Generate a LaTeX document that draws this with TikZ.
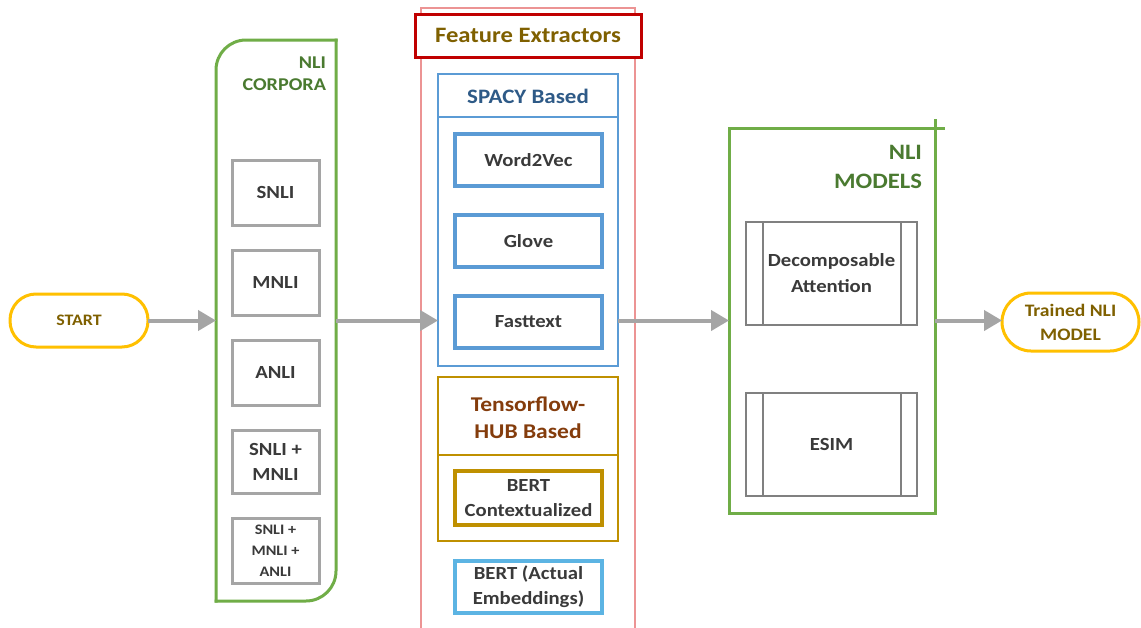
\documentclass[tikz,border=0pt]{standalone}
\usepackage{fontspec}
\setmainfont{Carlito}[FakeStretch=1.12]
\usetikzlibrary{arrows.meta}
\definecolor{cgray}{HTML}{A5A5A5}
\definecolor{carrow}{HTML}{A5A5A5}
\definecolor{cgreen}{HTML}{70AD47}
\definecolor{cdgreen}{HTML}{4A7A30}
\definecolor{cgold}{HTML}{FFC000}
\definecolor{colive}{HTML}{7F6000}
\definecolor{ctext}{HTML}{3A3A3A}
\definecolor{cblue}{HTML}{5B9BD5}
\definecolor{cdblue}{HTML}{2E5A87}
\definecolor{cbrown}{HTML}{843C0C}
\definecolor{cdgold}{HTML}{BF9000}
\definecolor{clblue}{HTML}{5CB4E3}
\definecolor{cred}{HTML}{C00000}
\definecolor{cpink}{HTML}{EC9494}
\definecolor{cmgray}{HTML}{808080}
\begin{document}
\begin{tikzpicture}[x=1pt,y=-1pt,
  every node/.style={inner sep=0pt, outer sep=0pt, align=center},
  pill/.style={draw=cgold, line width=3pt, text=colive},
  boxfont/.style={font=\bfseries\fontsize{18.5}{25}\selectfont},
  corpbox/.style={boxfont, draw=cgray, line width=3pt, minimum width=87pt, minimum height=65pt, text=ctext},
  spbox/.style={boxfont, draw=cblue, line width=3.5pt, minimum width=147pt, minimum height=52pt, text=ctext},
  modbox/.style={font=\bfseries\fontsize{18.5}{26}\selectfont, draw=cmgray, line width=1.5pt, minimum width=171pt, minimum height=103pt, text=ctext},
  grn/.style={draw=cgreen, line width=3pt, line cap=rect},
  arr/.style={draw=carrow, line width=4pt, -{Triangle[length=18pt,width=20pt]}}
]
\useasboundingbox (0,0) rectangle (1141,627);
\fill[white] (0,0) rectangle (1141,627);

% START
\node[pill, rounded corners=26pt, minimum width=138pt, minimum height=53pt, font=\bfseries\fontsize{16}{22}\selectfont] (start) at (79,320.5) {START};

% NLI corpora container
\node[minimum width=120pt, minimum height=561pt] (corpora) at (276,320.5) {};
\draw[grn, rounded corners=30pt] (corpora.south west) -- (corpora.north west) -- (corpora.north east);
\draw[grn, rounded corners=30pt] (corpora.north east) -- (corpora.south east) -- (corpora.south west);
\node[anchor=east, text=cdgreen, font=\bfseries\fontsize{18}{22}\selectfont, align=right] (corptitle) at (326,74) {NLI\\CORPORA};

\node[corpbox] (snli) at (275.5,192.5) {SNLI};
\node[corpbox] (mnli) at (275.5,282.5) {MNLI};
\node[corpbox] (anli) at (275.5,372.5) {ANLI};
\node[corpbox, minimum height=63pt] (sm) at (275.5,461.5) {SNLI +\\MNLI};
\node[corpbox, font=\bfseries\fontsize{14.5}{21}\selectfont] (sma) at (275.5,550.5) {SNLI +\\MNLI +\\ANLI};

% Feature extractors
\node[draw=cpink, line width=2pt, minimum width=214pt, minimum height=632pt] (feat) at (528,324) {};
\node[draw=cred, fill=white, line width=3pt, minimum width=226pt, minimum height=43pt, text=colive, font=\bfseries\fontsize{22}{26}\selectfont] (feattitle) at (528,35.5) {Feature Extractors};

% SPACY
\node[draw=cblue, line width=2.5pt, minimum width=180pt, minimum height=292pt] (spacy) at (528,220) {};
\draw[cblue, line width=2.5pt] ([yshift=-43pt]spacy.north west) -- ([yshift=-43pt]spacy.north east);
\node[text=cdblue, font=\bfseries\fontsize{20.5}{24}\selectfont] (spacytitle) at (528,96.5) {SPACY Based};
\node[spbox] (w2v) at (528.5,160) {Word2Vec};
\node[spbox] (glove) at (528.5,241) {Glove};
\node[spbox] (fast) at (528.5,322) {Fasttext};

% Tensorflow
\node[draw=cdgold, line width=2.5pt, minimum width=180pt, minimum height=164pt] (tf) at (528,459) {};
\draw[cdgold, line width=2.5pt] ([yshift=-78pt]tf.north west) -- ([yshift=-78pt]tf.north east);
\node[text=cbrown, font=\bfseries\fontsize{21}{27}\selectfont] (tftitle) at (528,418) {Tensorflow-\\HUB Based};
\node[boxfont, draw=cdgold, line width=3.5pt, minimum width=147pt, minimum height=54pt, text=ctext] (bertc) at (528.5,498) {BERT\\Contextualized};

% BERT actual
\node[boxfont, draw=clblue, line width=3.5pt, minimum width=147pt, minimum height=52pt, text=ctext] (berta) at (528.5,587) {BERT (Actual\\Embeddings)};

% NLI models
\node[draw=cgreen, line width=3pt, minimum width=206pt, minimum height=385pt] (models) at (832,320.5) {};
\draw[grn] (models.north east) -- ([xshift=8pt]models.north east);
\draw[grn] (models.north east) -- ([yshift=8pt]models.north east);
\node[anchor=east, text=cdgreen, font=\bfseries\fontsize{22}{29}\selectfont, align=right] (modtitle) at (922,167) {NLI\\MODELS};

\node[modbox] (da) at (831.5,273.5) {Decomposable\\Attention};
\draw[cmgray, line width=1.5pt] ([xshift=17pt]da.north west) -- ([xshift=17pt]da.south west);
\draw[cmgray, line width=1.5pt] ([xshift=-16pt]da.north east) -- ([xshift=-16pt]da.south east);
\node[modbox] (esim) at (831.5,444.5) {ESIM};
\draw[cmgray, line width=1.5pt] ([xshift=17pt]esim.north west) -- ([xshift=17pt]esim.south west);
\draw[cmgray, line width=1.5pt] ([xshift=-16pt]esim.north east) -- ([xshift=-16pt]esim.south east);

% Trained
\node[pill, rounded corners=29pt, minimum width=137pt, minimum height=58pt, font=\bfseries\fontsize{17.5}{24}\selectfont] (trained) at (1070.5,322) {Trained NLI\\MODEL};

% arrows
\draw[arr] (start.east) -- (start.east -| corpora.west);
\draw[arr] (corpora.east |- start.east) -- (spacy.west |- start.east);
\draw[arr] (spacy.east |- start.east) -- (models.west |- start.east);
\draw[arr] (models.east |- start.east) -- (trained.west |- start.east);
\end{tikzpicture}
\end{document}
